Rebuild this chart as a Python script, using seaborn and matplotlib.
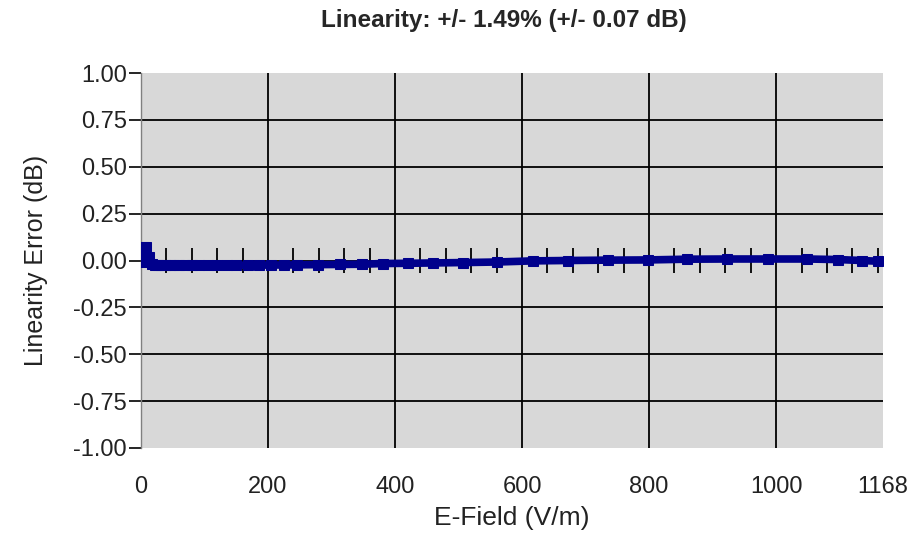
import numpy as np
import pandas as pd
import matplotlib
matplotlib.use("Agg")
import matplotlib.pyplot as plt
import seaborn as sns

# ---- data ----
title = "Linearity: +/- 1.49% (+/- 0.07 dB)"
x_label = "E-Field (V/m)"
y_label = "Linearity Error (dB)"
efield = [1, 3, 8, 13, 17, 22, 27, 32, 38, 45, 52, 60, 70, 80, 92, 105, 120, 135,
          150, 168, 186, 205, 225, 246, 279, 313, 348, 381, 420, 460, 507, 561,
          617, 672, 735, 798, 860, 923, 987, 1049, 1098, 1135, 1161]
lin_err = [-0.01, 0.07, 0.07, 0.02, -0.02, -0.025, -0.025, -0.025, -0.025, -0.025,
           -0.025, -0.025, -0.025, -0.025, -0.025, -0.025, -0.025, -0.025, -0.025,
           -0.025, -0.025, -0.024, -0.024, -0.023, -0.022, -0.021, -0.02, -0.016,
           -0.015, -0.013, -0.011, -0.008, -0.002, 0.0, 0.002, 0.003, 0.007, 0.008,
           0.008, 0.008, 0.005, 0.0, -0.004]
x_ticks = [0, 200, 400, 600, 800, 1000, 1168]
y_ticks = [-1.0, -0.75, -0.5, -0.25, 0.0, 0.25, 0.5, 0.75, 1.0]
minor_step = 40

df = pd.DataFrame({"E": efield, "err": lin_err})

sns.set_style("white")
plt.rcParams['font.family'] = ['Liberation Sans', 'DejaVu Sans']
narrow = ['Liberation Sans Narrow', 'Liberation Sans', 'DejaVu Sans']

fig = plt.figure(figsize=(9.12, 5.49), dpi=100)
ax = fig.add_axes([0.1546, 0.184, 0.968 - 0.1546, 0.867 - 0.184])
ax.set_facecolor("#D8D8D8")

# grid lines (major)
for xv in x_ticks[1:-1]:
    ax.axvline(xv, color="black", lw=1.3, zorder=1)
for yv in y_ticks[1:-1]:
    ax.axhline(yv, color="black", lw=1.3, zorder=1)

# minor tick crosses along zero axis
minor = [v for v in np.arange(minor_step, 1168, minor_step) if v % 200 != 0]
ax.vlines(minor, -0.065, 0.065, color="black", lw=1.3, zorder=2)

sns.lineplot(data=df, x="E", y="err", ax=ax, color="#00008C", lw=5.5,
             marker="s", markersize=7, markeredgecolor="#00008C",
             zorder=3, legend=False)

ax.set_xlim(0, 1168)
ax.set_ylim(-1.0, 1.0)
ax.set_xticks(x_ticks)
ax.set_xticklabels([str(v) for v in x_ticks])
ax.set_yticks(y_ticks)
ax.set_yticklabels([f"{v:.2f}" for v in y_ticks])

for s in ax.spines.values():
    s.set_visible(False)
ax.spines["left"].set_visible(True)
ax.spines["left"].set_color("#808080")
ax.spines["left"].set_linewidth(1.0)

ax.tick_params(axis="y", length=9, width=1.2, color="black", pad=1, left=True)
ax.tick_params(axis="x", length=0, pad=20)
for lab in ax.get_xticklabels() + ax.get_yticklabels():
    lab.set_family(narrow)
    lab.set_fontsize(17)
    lab.set_color("#222222")

ax.set_xlabel(x_label, fontsize=19, family=narrow, labelpad=6, color="#222222")
ax.set_ylabel(y_label, fontsize=18, family=narrow, color="#222222")
ax.yaxis.set_label_coords(-0.125, 0.5)
fig.text(0.553, 0.962, title, ha="center", va="center", fontsize=17.5,
         fontweight="bold")

fig.savefig("out.png", dpi=100, facecolor="white")
